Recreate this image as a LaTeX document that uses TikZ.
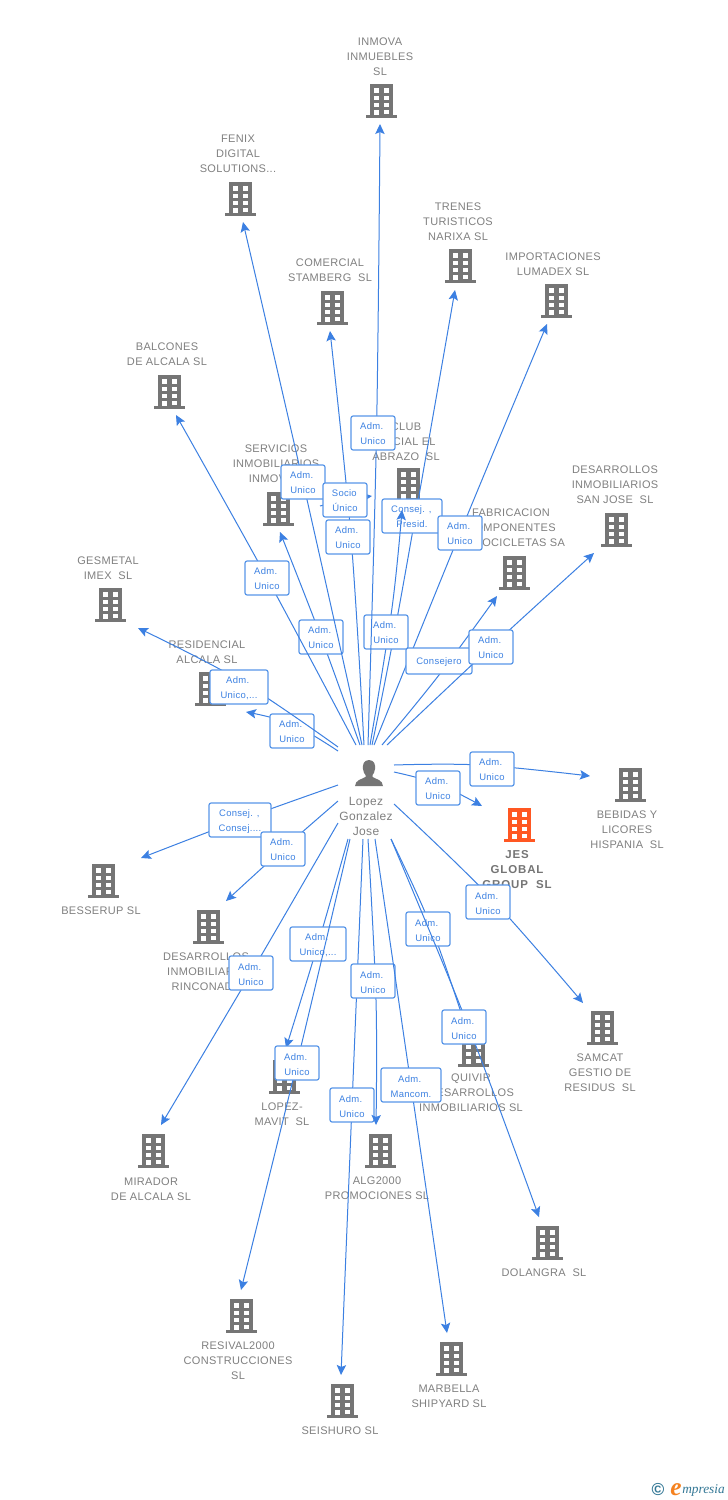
\documentclass[tikz,border=0pt]{standalone}
\usepackage{fontspec}
\setmainfont{Liberation Sans}[LetterSpace=3]
\newfontfamily\logofont{Liberation Serif}
\usetikzlibrary{arrows.meta}
\definecolor{linkblue}{RGB}{60,128,226}
\definecolor{boxblue}{RGB}{88,150,232}
\definecolor{labblue}{RGB}{62,130,226}
\definecolor{iconGray}{RGB}{117,117,117}
\definecolor{txtGray}{RGB}{128,128,128}
\definecolor{iconOrange}{RGB}{255,87,34}
\definecolor{logoTeal}{RGB}{52,120,150}
\definecolor{logoOrange}{RGB}{245,130,32}
\tikzset{
  x=0.75pt,y=-0.75pt,
  pics/building/.style={code={
    \fill[#1] (-11.5,-17) rectangle (11.5,14);
    \fill[#1] (-15.5,14) rectangle (15.5,17);
    \foreach \wy/\wz in {-12.7/-8.2,-5.5/-1.5,1.7/5.5}{
      \fill[white] (-6.7,\wy) rectangle (-1.7,\wz);
      \fill[white] (3,\wy) rectangle (8,\wz);
    }
    \fill[white] (-6.7,9) rectangle (-1.7,14);
    \fill[white] (3,9) rectangle (8,12.5);
  }},
  coname/.style={text=txtGray,align=center,inner sep=0pt,yshift=-0.75pt,font=\fontsize{8.25}{11.25}\selectfont},
  jesname/.style={text=iconGray,font=\bfseries\fontsize{8.6}{11.25}\selectfont\addfontfeature{LetterSpace=8}},
  personname/.style={font=\fontsize{9}{11.25}\selectfont},
  linkline/.style={draw=linkblue,line width=0.75pt,-{Stealth[length=7.5pt,width=7pt,inset=1.5pt]}},
  linklab/.style={draw=boxblue,fill=white,line width=0.9pt,rounded corners=1.6pt,text=labblue,align=center,inner sep=0pt,minimum height=25.5pt,font=\fontsize{7.1}{11.25}\selectfont}
}
% id, icon x,y, text x,y, extra style, text
\newcommand\company[6][iconGray]{%
  \pic at (#3) {building=#1};
  \node[coname,#5] (#2) at (#4) {#6};
}
% [height] id, start, via, tip, label pos, width, text
\newcommand\conn[8][25.5pt]{%
  \coordinate (#2s) at (#3);
  \coordinate (#2v) at (#4);
  \coordinate (#2t) at (#5);
  \draw[linkline] plot[smooth,tension=0.6] coordinates {(#2s) (#2v) (#2t)};
  \node[linklab,minimum height=#1,minimum width=#7*0.75pt] (#2l) at (#6) {\rule{0pt}{6.8pt}#8};
}
\newcommand\au{Adm.\hspace*{2pt}\\Unico}
\begin{document}
\begin{tikzpicture}
\useasboundingbox (0,0) rectangle (728,1500);
\fill[white] (0,0) rectangle (728,1500);

\company{inmova}{381,101}{380,56}{}{INMOVA\\INMUEBLES\\SL}
\company{fenix}{240,199}{238,153}{}{FENIX\\DIGITAL\\SOLUTIONS...}
\company{trenes}{460,266}{458,221}{}{TRENES\\TURISTICOS\\NARIXA SL}
\company{comercial}{332,308}{330,269.5}{}{COMERCIAL\\STAMBERG\ \ SL}
\company{lumadex}{556,301}{553,263.5}{}{IMPORTACIONES\\LUMADEX SL}
\company{balcones}{169,392}{167,353.5}{}{BALCONES\\DE ALCALA SL}
\company{club}{408,485}{406,441}{}{CLUB\\SOCIAL EL\\ABRAZO\ \ SL}
\company{servicios}{278,509}{276,463}{}{SERVICIOS\\INMOBILIARIOS\\INMOVA...}
\company{fabric}{514,573}{511,527}{}{FABRICACION\\COMPONENTES\\MOTOCICLETAS SA}
\company{sanjose}{616,530}{615,484}{}{DESARROLLOS\\INMOBILIARIOS\\SAN JOSE\ \ SL}
\company{gesmetal}{110,605}{108,567.5}{}{GESMETAL\\IMEX\ \ SL}
\company{residencial}{210,689}{207,651.5}{}{RESIDENCIAL\\ALCALA SL}
\company{bebidas}{630,785}{627,829}{}{BEBIDAS Y\\LICORES\\HISPANIA\ \ SL}
\company[iconOrange]{jes}{519,825}{517,869}{jesname}{JES\\GLOBAL\\GROUP\ \ SL}
\company{besserup}{103,881}{101,910}{}{BESSERUP SL}
\company{rinconada}{208,927}{206,971}{}{DESARROLLOS\\INMOBILIARIA\\RINCONADA}
\company{samcat}{602,1028}{600,1072}{}{SAMCAT\\GESTIO DE\\RESIDUS\ \ SL}
\company{quivir}{473,1050}{471,1092}{}{QUIVIR\\DESARROLLOS\\INMOBILIARIOS SL}
\company{mavit}{284,1077}{282,1113.5}{}{LOPEZ-\\MAVIT\ \ SL}
\company{mirador}{153,1151}{151,1188.5}{}{MIRADOR\\DE ALCALA SL}
\company{alg}{380,1151}{377,1187.5}{}{ALG2000\\PROMOCIONES SL}
\company{dolangra}{547,1243}{544,1272}{}{DOLANGRA\ \ SL}
\company{resival}{241,1316}{238,1360}{}{RESIVAL2000\\CONSTRUCCIONES\\SL}
\company{seishuro}{342,1401}{340,1430}{}{SEISHURO SL}
\company{marbella}{451,1359}{449,1395.5}{}{MARBELLA\\SHIPYARD SL}

% person
\fill[iconGray] (369,760) .. controls (363.5,760) and (362.5,765) .. (363,769) .. controls (363.3,772) and (364.5,774) .. (365.5,775) -- (365.5,777) .. controls (361,779.5) and (355.5,780) .. (355,786) -- (383,786) .. controls (382.5,780) and (377,779.5) .. (372.5,777) -- (372.5,775) .. controls (373.5,774) and (374.7,772) .. (375,769) .. controls (375.5,765) and (374.5,760) .. (369,760) -- cycle;
\node[coname,personname] (person) at (366,815) {Lopez\\Gonzalez\\Jose};

% upper fan
\conn{e1}{360,745}{321,637}{280,532}{321,637}{44}{\au}
\conn{e2}{356,745}{267,578}{176,415}{267,578}{44}{\au}
\conn{e3}{362,745}{303,482}{243,222}{303,482}{44}{\au}
\conn{e4}{364,745}{351,537}{330,331}{348,537}{44}{\au}
\conn{e5}{320,506}{345,500}{372,496}{345,500}{44}{Socio\hspace*{1pt}\\Único}
\conn{e6}{372,745}{399,608}{455,290}{412,516}{60}{Consej. ,\hspace*{1pt}\\Presid.}
\conn{e7}{370,745}{392,608}{402,510}{386,632}{44}{\au}
\conn{e8}{368,745}{376.5,433}{380,124}{373,433}{44}{\au}
\conn{e9}{374,745}{460,533}{547,324}{460,533}{44}{\au}
\conn[19.5pt]{e10}{382,745}{439,675}{497,596}{439,661}{66}{Consejero}
\conn{e11}{387,745}{491,647}{594,553}{491,647}{44}{\au}
\conn{e12}{338,751}{292,724}{246,712}{292,731}{44}{\au}
\conn{e13}{338,747}{239,680}{138,628}{239,687}{58}{Adm.\hspace*{2pt}\\Unico,...}

% right side
\conn{e14}{394,765}{480,765}{590,776}{492,769}{44}{\au}
\conn{e15}{394,772}{438,784}{482,806}{438,788}{44}{\au}
\conn{e16}{394,804}{490,897}{583,1003}{488,902}{44}{\au}

% lower fan
\conn{e17}{338,785}{240,820}{141,858}{240,820}{62}{Consej. ,\hspace*{1pt}\\Consej....}
\conn{e18}{338,801}{283,849}{226,901}{283,849}{44}{\au}
\conn{e19}{338,823}{251,973}{161,1125}{251,973}{44}{\au}
\conn{e20}{348,839}{318,944}{286,1048}{318,944}{56}{Adm.\hspace*{2pt}\\Unico,...}
\conn{e21}{350,839}{297,1063}{241,1290}{297,1063}{44}{\au}
\conn{e22}{363,839}{352,1105}{341,1375}{352,1105}{44}{\au}
\conn{e23}{368,839}{376,1000}{376,1125}{373,981}{44}{\au}
\conn{e24}{375,839}{411,1085}{447,1333}{411,1085}{60}{Adm.\hspace*{2pt}\\Mancom.}
\conn{e25}{391,839}{432,929}{470,1040}{428,929}{44}{\au}
\conn{e26}{391,839}{469,1028}{539,1217}{464,1027}{44}{\au}

% logo
\node[inner sep=0pt,text=logoTeal,font=\bfseries\fontsize{13}{13}\selectfont] (logoc) at (658,1489) {©};
\node[inner sep=0pt,text=logoOrange,anchor=base west,font=\logofont\itshape\bfseries\fontsize{19}{19}\selectfont] (logoe) at (670,1495) {e};
\node[inner sep=0pt,text=logoTeal,anchor=base west,font=\logofont\itshape\fontsize{10}{10}\selectfont] (logot) at (682,1493) {mpresia};
\end{tikzpicture}
\end{document}
